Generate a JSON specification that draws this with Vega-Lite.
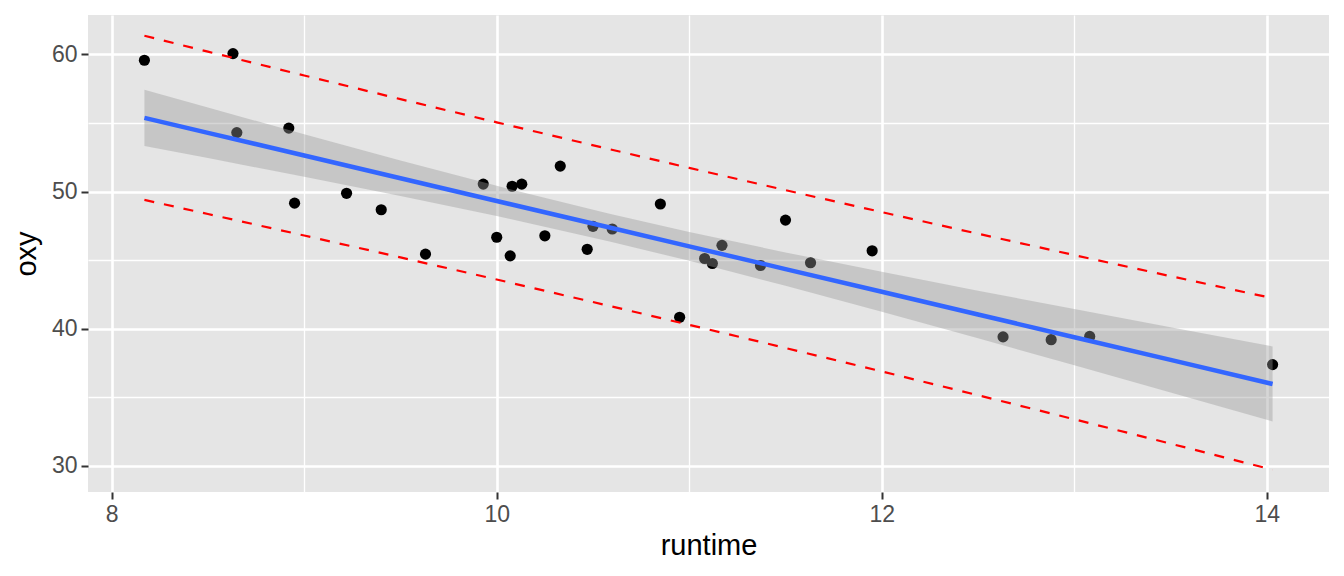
{
  "$schema": "https://vega.github.io/schema/vega-lite/v6.json",
  "width": 1241,
  "height": 477,
  "autosize": {"type": "none"},
  "padding": {"left": 88, "top": 15, "right": 15, "bottom": 84},
  "background": "white",
  "config": {
    "view": {"fill": "#E5E5E5", "stroke": null},
    "axis": {
      "domain": false,
      "gridColor": "white",
      "tickColor": "#333333",
      "tickWidth": 2,
      "tickSize": 7,
      "labelColor": "#4D4D4D",
      "labelFont": "Liberation Sans",
      "labelFontSize": 23,
      "labelPadding": 4,
      "titleFont": "Liberation Sans",
      "titleFontSize": 29,
      "titleFontWeight": "normal",
      "titleColor": "black"
    }
  },
  "datasets": {
    "pts": [
      {"runtime": 11.37, "oxy": 44.609}, {"runtime": 10.07, "oxy": 45.313}, {"runtime": 8.65, "oxy": 54.297},
      {"runtime": 8.17, "oxy": 59.571}, {"runtime": 9.22, "oxy": 49.874}, {"runtime": 11.63, "oxy": 44.811},
      {"runtime": 11.95, "oxy": 45.681}, {"runtime": 10.85, "oxy": 49.091}, {"runtime": 13.08, "oxy": 39.442},
      {"runtime": 8.63, "oxy": 60.055}, {"runtime": 10.13, "oxy": 50.541}, {"runtime": 14.03, "oxy": 37.388},
      {"runtime": 11.12, "oxy": 44.754}, {"runtime": 10.6, "oxy": 47.273}, {"runtime": 10.33, "oxy": 51.855},
      {"runtime": 8.95, "oxy": 49.156}, {"runtime": 10.95, "oxy": 40.836}, {"runtime": 10.0, "oxy": 46.672},
      {"runtime": 10.25, "oxy": 46.774}, {"runtime": 10.08, "oxy": 50.388}, {"runtime": 12.63, "oxy": 39.407},
      {"runtime": 11.17, "oxy": 46.08}, {"runtime": 9.63, "oxy": 45.441}, {"runtime": 8.92, "oxy": 54.625},
      {"runtime": 11.08, "oxy": 45.118}, {"runtime": 12.88, "oxy": 39.203}, {"runtime": 10.47, "oxy": 45.79},
      {"runtime": 9.93, "oxy": 50.545}, {"runtime": 9.4, "oxy": 48.673}, {"runtime": 11.5, "oxy": 47.92},
      {"runtime": 10.5, "oxy": 47.467}
    ],
    "fit": [
      {"runtime": 8.17, "fit": 55.374, "clo": 53.324, "chi": 57.425, "plo": 49.389, "phi": 61.359},
      {"runtime": 8.5, "fit": 54.282, "clo": 52.439, "chi": 56.124, "plo": 48.365, "phi": 60.198},
      {"runtime": 9.0, "fit": 52.626, "clo": 51.080, "chi": 54.173, "plo": 46.795, "phi": 58.458},
      {"runtime": 9.5, "fit": 50.971, "clo": 49.681, "chi": 52.261, "plo": 45.203, "phi": 56.740},
      {"runtime": 10.0, "fit": 49.316, "clo": 48.217, "chi": 50.415, "plo": 43.587, "phi": 55.045},
      {"runtime": 10.586, "fit": 47.376, "clo": 46.366, "chi": 48.385, "plo": 41.663, "phi": 53.088},
      {"runtime": 11.0, "fit": 46.005, "clo": 44.950, "chi": 47.060, "plo": 40.285, "phi": 51.726},
      {"runtime": 11.5, "fit": 44.350, "clo": 43.135, "chi": 45.565, "plo": 38.598, "phi": 50.102},
      {"runtime": 12.0, "fit": 42.695, "clo": 41.242, "chi": 44.147, "plo": 36.888, "phi": 48.502},
      {"runtime": 12.5, "fit": 41.039, "clo": 39.302, "chi": 42.777, "plo": 35.155, "phi": 46.924},
      {"runtime": 13.0, "fit": 39.384, "clo": 37.335, "chi": 41.433, "plo": 33.400, "phi": 45.368},
      {"runtime": 13.5, "fit": 37.729, "clo": 35.351, "chi": 40.106, "plo": 31.624, "phi": 43.833},
      {"runtime": 14.03, "fit": 35.974, "clo": 33.237, "chi": 38.711, "plo": 29.721, "phi": 42.227}
    ]
  },
  "layer": [
    {
      "data": {"name": "pts"},
      "mark": {"type": "point", "filled": true, "color": "black", "opacity": 1, "size": 125},
      "encoding": {
        "x": {"field": "runtime", "type": "quantitative",
          "scale": {"domain": [7.877, 14.323], "nice": false, "zero": false},
          "axis": {"orient": "bottom", "values": [8, 10, 12, 14], "grid": true, "gridWidth": 2.6, "title": "runtime", "titlePadding": 5, "zindex": 0}},
        "y": {"field": "oxy", "type": "quantitative",
          "scale": {"domain": [28.1, 62.87], "nice": false, "zero": false},
          "axis": {"orient": "left", "values": [30, 40, 50, 60], "grid": true, "gridWidth": 2.6, "title": "oxy", "titlePadding": 10, "zindex": 0}}
      }
    },
    {
      "data": {"name": "fit"},
      "mark": {"type": "area", "color": "#999999", "opacity": 0.4},
      "encoding": {
        "x": {"field": "runtime", "type": "quantitative",
          "axis": {"orient": "bottom", "values": [9, 11, 13], "grid": true, "gridWidth": 1.3, "labels": false, "ticks": false, "title": null, "zindex": 0}},
        "y": {"field": "clo", "type": "quantitative",
          "axis": {"orient": "left", "values": [35, 45, 55], "grid": true, "gridWidth": 1.3, "labels": false, "ticks": false, "title": null, "zindex": 0}},
        "y2": {"field": "chi"}
      }
    },
    {
      "data": {"name": "fit"},
      "mark": {"type": "line", "color": "#3366FF", "strokeWidth": 4.5},
      "encoding": {
        "x": {"field": "runtime", "type": "quantitative", "axis": null},
        "y": {"field": "fit", "type": "quantitative", "axis": null}
      }
    },
    {
      "data": {"name": "fit"},
      "mark": {"type": "line", "color": "red", "strokeWidth": 2.2, "strokeDash": [10, 10]},
      "encoding": {
        "x": {"field": "runtime", "type": "quantitative", "axis": null},
        "y": {"field": "plo", "type": "quantitative", "axis": null}
      }
    },
    {
      "data": {"name": "fit"},
      "mark": {"type": "line", "color": "red", "strokeWidth": 2.2, "strokeDash": [10, 10]},
      "encoding": {
        "x": {"field": "runtime", "type": "quantitative", "axis": null},
        "y": {"field": "phi", "type": "quantitative", "axis": null}
      }
    }
  ],
  "resolve": {"axis": {"x": "independent", "y": "independent"}}
}
